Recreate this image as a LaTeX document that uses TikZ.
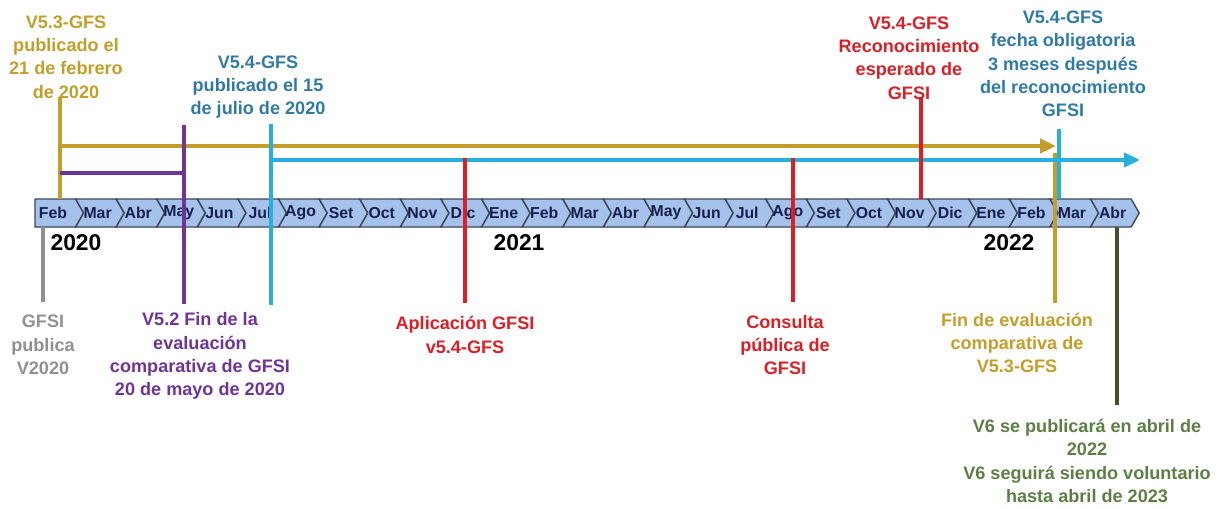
\documentclass[tikz,border=0pt]{standalone}
\usepackage{fontspec}
\setmainfont{Liberation Sans}
\usetikzlibrary{arrows.meta}
\definecolor{goldc}{RGB}{196,158,42}
\definecolor{skyc}{RGB}{38,176,222}
\definecolor{steelc}{RGB}{48,122,168}
\definecolor{redc}{RGB}{218,32,38}
\definecolor{purplec}{RGB}{112,52,150}
\definecolor{grayc}{RGB}{145,145,145}
\definecolor{greenc}{RGB}{92,128,68}
\definecolor{darkgreenc}{RGB}{62,84,44}
\definecolor{bandfill}{RGB}{164,194,236}
\definecolor{bandedge}{RGB}{62,70,82}
\definecolor{navyc}{RGB}{22,30,78}
\tikzset{
  month-chevron/.style={fill=bandfill, draw=bandedge, line width=0.8pt, line join=miter},
  month-label/.style={font=\fontsize{9}{10}\selectfont\bfseries, text=navyc, inner sep=0pt},
  year-label/.style={font=\fontsize{13}{15}\selectfont\bfseries, text=black, inner sep=0pt},
  event-label/.style={font=\fontsize{10.3}{13.3}\selectfont\bfseries, align=center, inner sep=0pt},
  event-line/.style={line width=2pt},
  event-arrow/.style={line width=2pt, -{Triangle[length=9pt, width=8pt]}}
}
\begin{document}
\begin{tikzpicture}[x=0.02cm, y=-0.02cm]
\useasboundingbox (0,0) rectangle (1223,508);

% Month band
\coordinate (bt) at (0,199);
\coordinate (bb) at (0,227);
\foreach \m [count=\i from 0] in {Feb,Mar,Abr,May,Jun,Jul,Ago,Set,Oct,Nov,Dic,
    Ene,Feb,Mar,Abr,May,Jun,Jul,Ago,Set,Oct,Nov,Dic,Ene,Feb,Mar,Abr} {
  \pgfmathsetmacro{\L}{35+\i*40.6}
  \pgfmathsetmacro{\R}{\L+40.6}
  \pgfmathsetmacro{\N}{\i==0 ? 0 : 8}
  \draw[month-chevron] (\L,199) -- (\R,199) -- (\R+8,213) -- (\R,227)
    -- (\L,227) -- (\L+\N,213) -- cycle;
  \node[month-label] (m\i) at (\L+18+\N/2,213) {\m};
}

% Years
\node[year-label] (y2020) at (76,243) {2020};
\node[year-label] (y2021) at (519,243) {2021};
\node[year-label] (y2022) at (1009,243) {2022};

% Line end points
\coordinate (v53-top) at (60,97);
\coordinate (v53-mid) at (60,146);
\coordinate (v53-end) at (1056,146);
\coordinate (v52-link) at (60,173);
\coordinate (v52-top) at (184,125);
\coordinate (v52-bot) at (184,304);
\coordinate (v54-top) at (271,124);
\coordinate (v54-mid) at (271,160);
\coordinate (v54-bot) at (271,305);
\coordinate (v54-end) at (1140,160);
\coordinate (apl-top) at (465,158);
\coordinate (apl-bot) at (465,303);
\coordinate (cons-top) at (793,158);
\coordinate (cons-bot) at (793,302);
\coordinate (rec-top) at (921,97);
\coordinate (fin-top) at (1055,153);
\coordinate (fin-bot) at (1055,303);
\coordinate (oblig-top) at (1059,129);
\coordinate (gfsi-bot) at (43,302);
\coordinate (v6-bot) at (1117,405);

% Gold: V5.3-GFS
\draw[event-line, draw=goldc] (v53-top) -- (v53-top |- bt);
\draw[event-arrow, draw=goldc, fill=goldc] (v53-mid) -- (v53-end);
\draw[event-line, draw=goldc] (fin-top) -- (fin-bot);

% Purple: V5.2
\draw[event-line, draw=purplec] (v52-link) -- (v52-link -| v52-top);
\draw[event-line, draw=purplec] (v52-top) -- (v52-bot);

% Blue: V5.4-GFS
\draw[event-line, draw=skyc] (v54-top) -- (v54-bot);
\draw[event-arrow, draw=skyc, fill=skyc] (v54-mid) -- (v54-end);
\draw[event-line, draw=skyc] (oblig-top) -- (oblig-top |- bt);

% Red: GFSI
\draw[event-line, draw=redc] (apl-top) -- (apl-bot);
\draw[event-line, draw=redc] (cons-top) -- (cons-bot);
\draw[event-line, draw=redc] (rec-top) -- (rec-top |- bt);

% Gray and green
\draw[event-line, draw=grayc] (gfsi-bot |- bb) -- (gfsi-bot);
\draw[event-line, draw=darkgreenc] (v6-bot |- bb) -- (v6-bot);

% Labels above
\node[event-label, text=goldc] (lbl-v53) at (66,57)
  {V5.3-GFS\\publicado el\\21 de febrero\\de 2020};
\node[event-label, text=steelc] (lbl-v54) at (258,87)
  {V5.4-GFS\\publicado el 15\\de julio de 2020};
\node[event-label, text=redc] (lbl-rec) at (909,58)
  {V5.4-GFS\\Reconocimiento\\esperado de\\GFSI};
\node[event-label, text=steelc] (lbl-oblig) at (1063,64)
  {V5.4-GFS\\fecha obligatoria\\3 meses después\\del reconocimiento\\GFSI};

% Labels below
\node[event-label, text=grayc] (lbl-gfsi) at (43,345)
  {GFSI\\publica\\V2020};
\node[event-label, text=purplec] (lbl-v52) at (200,356)
  {V5.2 Fin de la\\evaluación\\comparativa de GFSI\\20 de mayo de 2020};
\node[event-label, text=redc] (lbl-apl) at (465,335)
  {Aplicación GFSI\\v5.4-GFS};
\node[event-label, text=redc] (lbl-cons) at (785,345)
  {Consulta\\pública de\\GFSI};
\node[event-label, text=goldc] (lbl-fin) at (1017,343)
  {Fin de evaluación\\comparativa de\\V5.3-GFS};
\node[event-label, text=greenc] (lbl-v6) at (1087,461)
  {V6 se publicará en abril de\\2022\\V6 seguirá siendo voluntario\\hasta abril de 2023};
\end{tikzpicture}
\end{document}
